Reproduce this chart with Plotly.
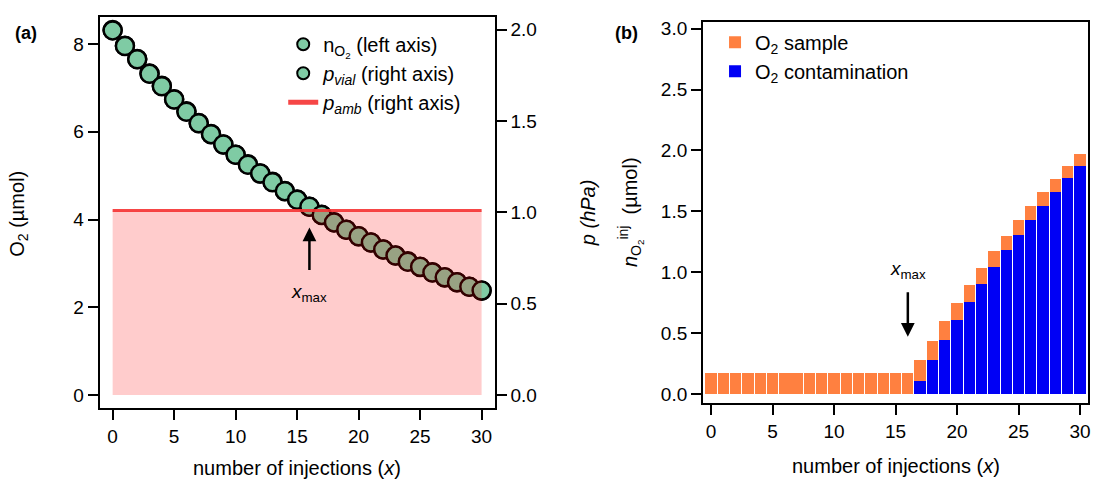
import plotly.graph_objects as go

# ---------------- data ----------------
injections = list(range(31))

n_o2 = [8.32, 7.96, 7.66, 7.33, 7.05, 6.74, 6.47, 6.20, 5.95, 5.71,
        5.48, 5.26, 5.05, 4.86, 4.65, 4.46, 4.29, 4.11, 3.94, 3.77,
        3.62, 3.48, 3.32, 3.18, 3.05, 2.92, 2.80, 2.68, 2.57, 2.47, 2.38]

p_vial = [1.996, 1.910, 1.838, 1.758, 1.690, 1.618, 1.551, 1.488, 1.428, 1.371,
          1.315, 1.261, 1.212, 1.165, 1.116, 1.069, 1.030, 0.986, 0.945, 0.905,
          0.869, 0.835, 0.797, 0.763, 0.730, 0.702, 0.671, 0.644, 0.617, 0.593, 0.572]

p_amb = 1.01
x_max = 16

o2_sample = [0.175, 0.175, 0.175, 0.175, 0.175, 0.175, 0.175, 0.175, 0.175,
             0.175, 0.175, 0.175, 0.175, 0.175, 0.175, 0.175, 0.175,
             0.168, 0.157, 0.149, 0.144, 0.138, 0.133, 0.128, 0.122,
             0.119, 0.111, 0.109, 0.106, 0.103, 0.098]

o2_contamination = [0, 0, 0, 0, 0, 0, 0, 0, 0, 0, 0, 0, 0, 0, 0, 0, 0,
                    0.108, 0.282, 0.447, 0.607, 0.759, 0.905, 1.043, 1.179,
                    1.306, 1.431, 1.547, 1.661, 1.770, 1.875]

x_ticks = [0, 5, 10, 15, 20, 25, 30]

# ---------------- style ----------------
FONT = "Liberation Sans, Arial, Helvetica, sans-serif"
GREEN = "#7FCBA4"
ORANGE = "#FF8040"
BLUE = "#0000F5"
W, H = 1093, 486
TICK = 19
TITLE = 20

fig = go.Figure()

fig.add_trace(go.Scatter(
    x=injections, y=n_o2, mode="markers", xaxis="x", yaxis="y",
    name="n<sub>O<sub>2</sub></sub> (left axis)", legend="legend",
    marker=dict(size=18, color=GREEN, line=dict(color="black", width=2.5)),
))
fig.add_trace(go.Scatter(
    x=injections, y=p_vial, mode="markers", xaxis="x", yaxis="y2",
    name="<i>p<sub>vial</sub></i> (right axis)", legend="legend",
    marker=dict(size=18, color=GREEN, line=dict(color="black", width=2.5)),
))
fig.add_trace(go.Scatter(
    x=[injections[0], injections[-1]], y=[p_amb, p_amb], mode="lines",
    xaxis="x", yaxis="y2", fill="tozeroy", fillcolor="rgba(255,0,0,0.2)",
    line=dict(width=0), showlegend=False, hoverinfo="skip",
))
fig.add_trace(go.Scatter(
    x=[injections[0], injections[-1]], y=[p_amb, p_amb], mode="lines",
    xaxis="x", yaxis="y2", name="<i>p<sub>amb</sub></i> (right axis)",
    legend="legend", line=dict(color="rgba(245,50,50,0.9)", width=3),
))

fig.add_trace(go.Bar(
    x=injections, y=o2_contamination, xaxis="x2", yaxis="y3",
    name="O<sub>2</sub> contamination", legend="legend2", legendrank=2,
    marker=dict(color=BLUE, line=dict(width=0)),
))
fig.add_trace(go.Bar(
    x=injections, y=o2_sample, xaxis="x2", yaxis="y3",
    name="O<sub>2</sub> sample", legend="legend2", legendrank=1,
    marker=dict(color=ORANGE, line=dict(width=0)),
))

axis_common = dict(
    showgrid=False, zeroline=False, showline=True, linecolor="black",
    linewidth=2, ticks="outside", ticklen=10, tickwidth=2, tickcolor="black",
    tickfont=dict(family=FONT, size=TICK, color="black"),
    ticklabeloverflow="allow",
)

fig.update_layout(
    width=W, height=H, margin=dict(l=0, r=0, t=0, b=0),
    paper_bgcolor="white", plot_bgcolor="white",
    font=dict(family=FONT, size=TITLE, color="black"),
    barmode="stack", bargap=0.08,
    xaxis=dict(domain=[100 / W, 496 / W], range=[-1.05, 31.06],
               tickvals=x_ticks, mirror=True, anchor="y", **axis_common),
    yaxis=dict(domain=[1 - 409 / H, 1 - 14 / H], range=[-0.29, 8.62],
               tick0=0, dtick=2, mirror=True, anchor="x", **axis_common),
    yaxis2=dict(overlaying="y", side="right", range=[-0.07, 2.07],
                tick0=0, dtick=0.5, tickformat=".1f", anchor="x", **axis_common),
    xaxis2=dict(domain=[705 / W, 1091 / W], range=[-0.65, 30.65],
                tickvals=x_ticks, mirror=True, anchor="y3", **axis_common),
    yaxis3=dict(domain=[1 - 404 / H, 1 - 19 / H], range=[-0.073, 3.057],
                tick0=0, dtick=0.5, tickformat=".1f", mirror=True,
                anchor="x2", **axis_common),
    legend=dict(x=284 / W, y=1 - 22 / H, xanchor="left", yanchor="top",
                bgcolor="rgba(0,0,0,0)", itemsizing="constant",
                font=dict(family=FONT, size=TITLE), tracegroupgap=0),
    legend2=dict(x=717 / W, y=1 - 20 / H, xanchor="left", yanchor="top",
                 bgcolor="rgba(0,0,0,0)", traceorder="normal",
                 font=dict(family=FONT, size=TITLE)),
)


def note(text, x, y, size=TITLE, angle=0, xref="paper", yref="paper"):
    return dict(text=text, x=x, y=y, xref=xref, yref=yref, showarrow=False,
                textangle=angle, xanchor="center", yanchor="middle",
                font=dict(family=FONT, size=size, color="black"))


ann = [
    note("<b>(a)</b>", 26 / W, 1 - 30 / H, size=18),
    note("<b>(b)</b>", 628 / W, 1 - 30 / H, size=18),
    note("O<sub>2</sub> (µmol)", 19 / W, 1 - 213 / H, angle=-90),
    note("<i>p (hPa)</i>", 589 / W, 1 - 212 / H, angle=-90),
    note("<i>n</i><sub>O<sub>2</sub></sub><sup>inj</sup>  (µmol)", 633 / W, 1 - 211 / H,
         angle=-90),
    note("number of injections (<i>x</i>)", 298 / W, 1 - 470 / H),
    note("number of injections (<i>x</i>)", 898 / W, 1 - 468 / H),
    note("<i>x</i><sub>max</sub>", x_max, 2.33, size=19, xref="x", yref="y"),
    note("<i>x</i><sub>max</sub>", x_max, 1.02, size=19, xref="x2", yref="y3"),
    dict(text="", x=x_max, y=3.82, xref="x", yref="y", ax=0, ay=44,
         showarrow=True, arrowhead=2, arrowsize=1.1, arrowwidth=2.5,
         arrowcolor="black"),
    dict(text="", x=x_max, y=0.47, xref="x2", yref="y3", ax=0, ay=-46,
         showarrow=True, arrowhead=2, arrowsize=1.1, arrowwidth=2.5,
         arrowcolor="black"),
]
fig.update_layout(annotations=ann)

fig.write_html("out.html", config={"displayModeBar": False},
               post_script="document.body.style.margin='0';document.body.style.padding='0';")
